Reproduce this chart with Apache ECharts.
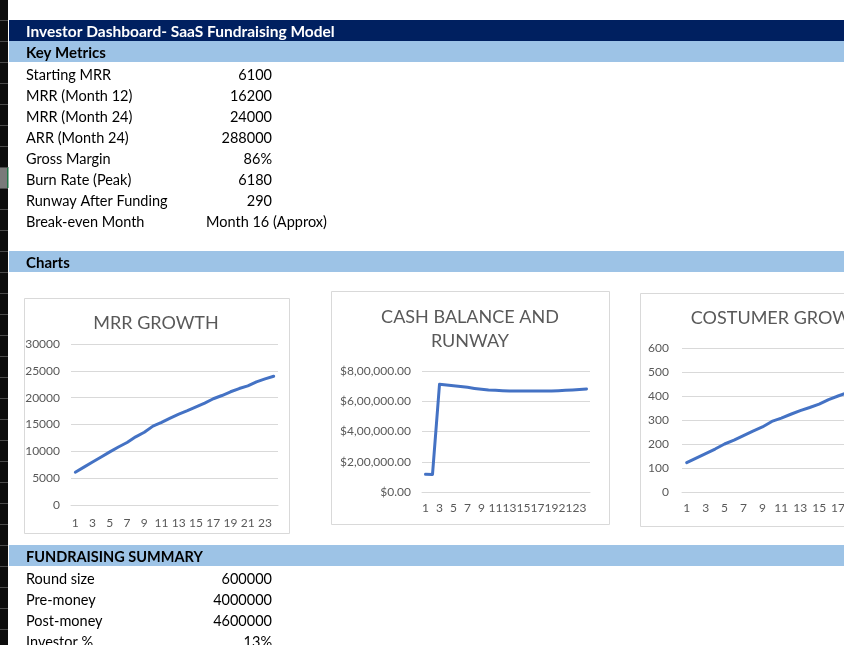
<!DOCTYPE html>
<html>
<head>
<meta charset="utf-8">
<script src="https://cdn.jsdelivr.net/npm/echarts@6/dist/echarts.min.js"></script>
<style>
html,body{margin:0;padding:0;background:#fff;}
#c{width:844px;height:645px;}
</style>
</head>
<body>
<div id="c"></div>
<script>
// ---- data ----
var months = ['1','2','3','4','5','6','7','8','9','10','11','12','13','14','15','16','17','18','19','20','21','22','23','24'];
var mrr = [6100, 7050, 8000, 8950, 9900, 10800, 11650, 12700, 13550, 14700, 15400, 16200, 16950, 17600, 18300, 19000, 19800, 20400, 21100, 21700, 22200, 22950, 23500, 24000];
var cash = [117000, 116000, 712000, 707000, 703000, 698000, 692000, 685000, 679000, 674000, 672000, 670000, 668000, 668000, 668000, 668000, 668000, 668000, 668000, 670000, 672000, 674000, 677000, 681000];
var customers = [122, 141, 160, 179, 200, 216, 235, 254, 271, 294, 308, 324, 339, 352, 366, 385, 400, 414, 426, 438, 449, 461, 471, 480];

var sheetTitle = 'Investor Dashboard- SaaS Fundraising Model';
var metricLabels = ['Starting MRR','MRR (Month 12)','MRR (Month 24)','ARR (Month 24)','Gross Margin','Burn Rate (Peak)','Runway After Funding','Break-even Month'];
var metricValues = ['6100','16200','24000','288000','86%','6180','290','Month 16 (Approx)'];
var fundLabels = ['Round size','Pre-money','Post-money','Investor %'];
var fundValues = ['600000','4000000','4600000','13%'];
var chartTitles = ['MRR GROWTH','CASH BALANCE AND\nRUNWAY','COSTUMER GROWTH'];

// ---- helpers ----
function inr(v){
  var s = Math.round(v).toString();
  if (s.length > 3) {
    var last3 = s.slice(-3), rest = s.slice(0, -3);
    rest = rest.replace(/\B(?=(\d{2})+(?!\d))/g, ',');
    s = rest + ',' + last3;
  }
  return '$' + s + '.00';
}
function plain(v){ return String(v); }

var FONT = 'Lato, "Open Sans", sans-serif';
var NAVY = '#002060', LBLUE = '#9DC3E6', LINE = '#4472C4', GRAY = '#595959', GRID = '#D9D9D9';
var ROW = 21;

var g = [];
// left black strip with row separators
g.push({type:'rect', shape:{x:0,y:0,width:8,height:645}, style:{fill:'#0d0d0d'}, z:-20});
g.push({type:'rect', shape:{x:0,y:167,width:8,height:21}, style:{fill:'#7a7a7a'}, z:-19});
g.push({type:'rect', shape:{x:7,y:167,width:1.5,height:21}, style:{fill:'#217346'}, z:-18});
for (var yy = 20; yy < 645; yy += ROW) {
  g.push({type:'rect', shape:{x:0,y:yy,width:8,height:1}, style:{fill:'#4a4a4a'}, z:-18});
}
// bars
g.push({type:'rect', shape:{x:9,y:20,width:835,height:21}, style:{fill:NAVY}, z:-15});
g.push({type:'rect', shape:{x:9,y:41,width:835,height:21}, style:{fill:LBLUE}, z:-15});
g.push({type:'rect', shape:{x:9,y:251,width:835,height:21}, style:{fill:LBLUE}, z:-15});
g.push({type:'rect', shape:{x:9,y:545,width:835,height:21}, style:{fill:LBLUE}, z:-15});

function txt(s, x, y, opt){
  opt = opt || {};
  g.push({type:'text', z: 5, style:{text:s, x:x, y:y, fill: opt.fill || '#000', fontSize: opt.size || 14.5,
    fontFamily: FONT, fontWeight: opt.bold ? 'bold' : 'normal', align: opt.align || 'left', verticalAlign:'middle',
    lineHeight: opt.lh}});
}
txt(sheetTitle, 26, 32, {fill:'#fff', bold:true, size:15.5});
txt('Key Metrics', 26, 53, {bold:true, size:15});
for (var i = 0; i < metricLabels.length; i++) {
  var cy = 75 + i * ROW;
  txt(metricLabels[i], 26, cy);
  if (/^[\d.%]+$/.test(metricValues[i])) txt(metricValues[i], 272, cy, {align:'right'});
  else txt(metricValues[i], 206, cy);
}
txt('Charts', 26, 263.5, {bold:true, size:15});
txt('FUNDRAISING SUMMARY', 26, 557, {bold:true, size:14.5});
for (var j = 0; j < fundLabels.length; j++) {
  var fy = 579 + j * ROW;
  txt(fundLabels[j], 26, fy);
  txt(fundValues[j], 272, fy, {align:'right'});
}

// chart boxes
g.push({type:'rect', shape:{x:24.5,y:298.5,width:265,height:235}, style:{fill:'#fff', stroke:GRID, lineWidth:1}, z:-10});
g.push({type:'rect', shape:{x:331.5,y:291.5,width:278,height:233}, style:{fill:'#fff', stroke:GRID, lineWidth:1}, z:-10});
g.push({type:'rect', shape:{x:640.5,y:293.5,width:280,height:233}, style:{fill:'#fff', stroke:GRID, lineWidth:1}, z:-10});
// chart titles
txt(chartTitles[0], 156, 323, {fill:GRAY, size:18, align:'center'});
txt(chartTitles[1], 470, 329, {fill:GRAY, size:18, lh:24, align:'center'});
txt(chartTitles[2], 783, 318, {fill:GRAY, size:18, align:'center'});

function xAxis(idx, margin){
  return {type:'category', gridIndex: idx, data: months, boundaryGap: true,
    axisTick:{show:false}, axisLine:{show:true, lineStyle:{color:GRID, width:1}},
    axisLabel:{interval:1, color:GRAY, fontSize:12, fontFamily:FONT, margin: margin, hideOverlap:false}};
}
function yAxis(idx, max, step, margin, fmt){
  return {type:'value', gridIndex: idx, min:0, max:max, interval:step,
    axisLine:{show:false}, axisTick:{show:false},
    splitLine:{lineStyle:{color:GRID, width:1}},
    axisLabel:{color:GRAY, fontSize:12, fontFamily:FONT, margin: margin, formatter: fmt}};
}
function ser(idx, data){
  return {type:'line', xAxisIndex: idx, yAxisIndex: idx, data: data, showSymbol:false, symbol:'none',
    lineStyle:{color:LINE, width:3, cap:'round', join:'round'}, itemStyle:{color:LINE}, animation:false};
}

var option = {
  animation: false,
  graphic: g,
  grid: [
    {left:71, top:344, width:207, height:161, containLabel:false, outerBoundsMode:'none'},
    {left:422, top:371, width:168, height:121, containLabel:false, outerBoundsMode:'none'},
    {left:682, top:348, width:227, height:144, containLabel:false, outerBoundsMode:'none'}
  ],
  xAxis: [xAxis(0, 12), xAxis(1, 10), xAxis(2, 10)],
  yAxis: [
    yAxis(0, 30000, 5000, 11, plain),
    yAxis(1, 800000, 200000, 11, inr),
    yAxis(2, 600, 100, 13, plain)
  ],
  series: [ser(0, mrr), ser(1, cash), ser(2, customers)]
};
var chart = echarts.init(document.getElementById('c'), null, {renderer:'canvas'});
chart.setOption(option);
</script>
</body>
</html>
